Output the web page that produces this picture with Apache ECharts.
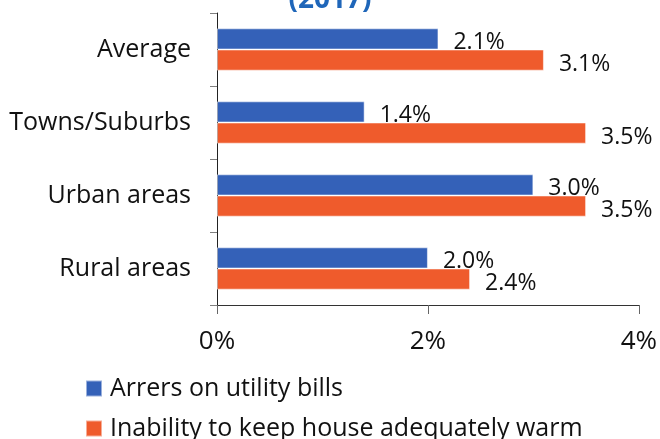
<!DOCTYPE html>
<html>
<head>
<meta charset="utf-8">
<title>chart</title>
<script src="https://cdn.jsdelivr.net/npm/echarts@6/dist/echarts.min.js"></script>
<style>
  html, body { margin: 0; padding: 0; background: #fff; }
  #main { width: 660px; height: 439px; }
</style>
</head>
<body>
<div id="main"></div>
<script>
// categories, top to bottom
const categories = ['Average', 'Towns/Suburbs', 'Urban areas', 'Rural areas']
const arrears = [2.1, 1.4, 3.0, 2.0]
const warmth = [3.1, 3.5, 3.5, 2.4]
const seriesNames = ['Arrers on utility bills', 'Inability to keep house adequately warm']
const xTicks = [0, 2, 4]

const font = 'Open Sans'

const chart = echarts.init(document.getElementById('main'))

const labelStyle = {
    show: true,
    position: 'right',
    distance: 15,
    offset: [0, 4],
    fontFamily: font,
    fontSize: 23,
    color: '#111',
    formatter: p => p.value.toFixed(1) + '%'
}

// one legend per row, stacked
const legendRow = (name, top) => ({
    left: 80,
    top: top,
    itemWidth: 16,
    itemHeight: 16,
    icon: 'rect',
    textStyle: { fontFamily: font, fontSize: 25, color: '#111', padding: [0, 0, 0, 3] },
    data: [name]
})

chart.setOption({
    animation: false,
    title: {
        text: '(2017)',
        left: 'center',
        top: -19,
        textStyle: { fontFamily: font, fontSize: 28, fontWeight: 'bold', color: '#1f66b9' }
    },
    legend: [
        legendRow(seriesNames[0], 371),
        legendRow(seriesNames[1], 411)
    ],
    grid: { left: 217, right: 17, top: 13, bottom: 134, containLabel: false },
    xAxis: {
        type: 'value',
        min: xTicks[0],
        max: xTicks[xTicks.length - 1],
        interval: 2,
        splitLine: { show: false },
        axisLine: { show: true, lineStyle: { color: '#333' } },
        axisTick: { show: true, length: 9, lineStyle: { color: '#666' } },
        axisLabel: {
            margin: 24,
            fontFamily: font, fontSize: 26, color: '#111',
            formatter: v => v + '%'
        }
    },
    yAxis: {
        type: 'category',
        inverse: true,
        data: categories,
        axisLine: { show: true, lineStyle: { color: '#222' } },
        axisTick: { show: true, length: 7, lineStyle: { color: '#808080' } },
        axisLabel: { margin: 26, fontFamily: font, fontSize: 25, color: '#111' }
    },
    series: [
        {
            name: seriesNames[0],
            type: 'bar',
            data: arrears,
            z: 2,
            barGap: '0%',
            barCategoryGap: '42%',
            itemStyle: { color: '#3461b8', borderColor: 'rgba(255,255,255,0.5)', borderWidth: 1 },
            label: labelStyle
        },
        {
            name: seriesNames[1],
            type: 'bar',
            data: warmth,
            z: 3,
            barGap: '0%',
            barCategoryGap: '42%',
            itemStyle: { color: '#ef5b2c', borderColor: 'rgba(255,255,255,0.5)', borderWidth: 1 },
            label: labelStyle
        }
    ]
})
</script>
</body>
</html>
